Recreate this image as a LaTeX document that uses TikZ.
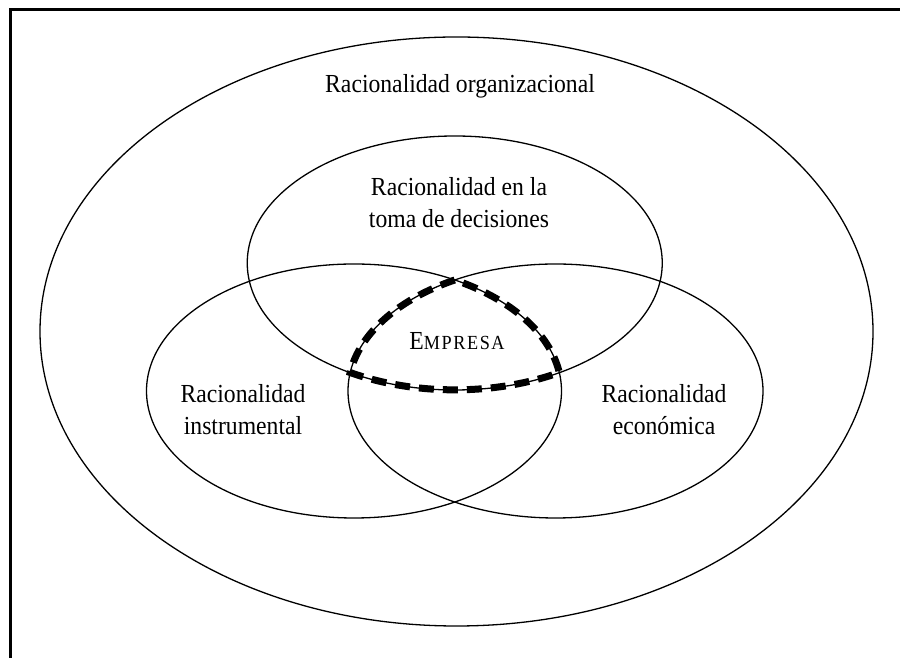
\documentclass[tikz,border=0pt]{standalone}
\usepackage{fontspec}
\setmainfont{Liberation Serif}[FakeStretch=0.91]
\begin{document}
\begin{tikzpicture}[x=1pt,y=1pt,
  ring/.style={line width=1.3pt},
  frame/.style={line width=3pt},
  lbl/.style={font=\fontsize{26}{32}\selectfont, inner sep=0pt, align=center},
  core/.style={line width=7pt, dash pattern=on 15pt off 9pt}]
\useasboundingbox (0,0) rectangle (900,658);
\begin{scope}
  \clip (0,0) rectangle (900,658);
  \draw[frame] (10,-20) rectangle (920,648);
\end{scope}
\coordinate (O) at (456.5,326.5);
\coordinate (T) at (454.75,395);
\coordinate (L) at (354,267);
\coordinate (R) at (555.5,267);
\draw[ring] (O) ellipse[x radius=416.5, y radius=294.5];
\draw[ring] (T) ellipse[x radius=207.5, y radius=127];
\draw[ring] (L) ellipse[x radius=207.5, y radius=127];
\draw[ring] (R) ellipse[x radius=207.5, y radius=127];
\path (R) ++(119.05:207.5 and 127) coordinate (apex);
\draw[core] (apex)
  arc[start angle=119.05, end angle=171.65, x radius=207.5, y radius=127]
  arc[start angle=239.745, end angle=300.255, x radius=207.5, y radius=127]
  arc[start angle=8.35, end angle=60.95, x radius=207.5, y radius=127]
  -- cycle;
\node[lbl, anchor=base] (org) at (460,565) {Racionalidad organizacional};
\node[lbl, anchor=base] (dec) at (459,430) {Racionalidad en la\\toma de decisiones};
\node[lbl, anchor=base] (emp) at (457,308) {E{\fontsize{20}{22}\selectfont\addfontfeature{LetterSpace=8}MPRESA}};
\node[lbl, anchor=base] (ins) at (243,223) {Racionalidad\\instrumental};
\node[lbl, anchor=base] (eco) at (664,223) {Racionalidad\\económica};
\end{tikzpicture}
\end{document}
